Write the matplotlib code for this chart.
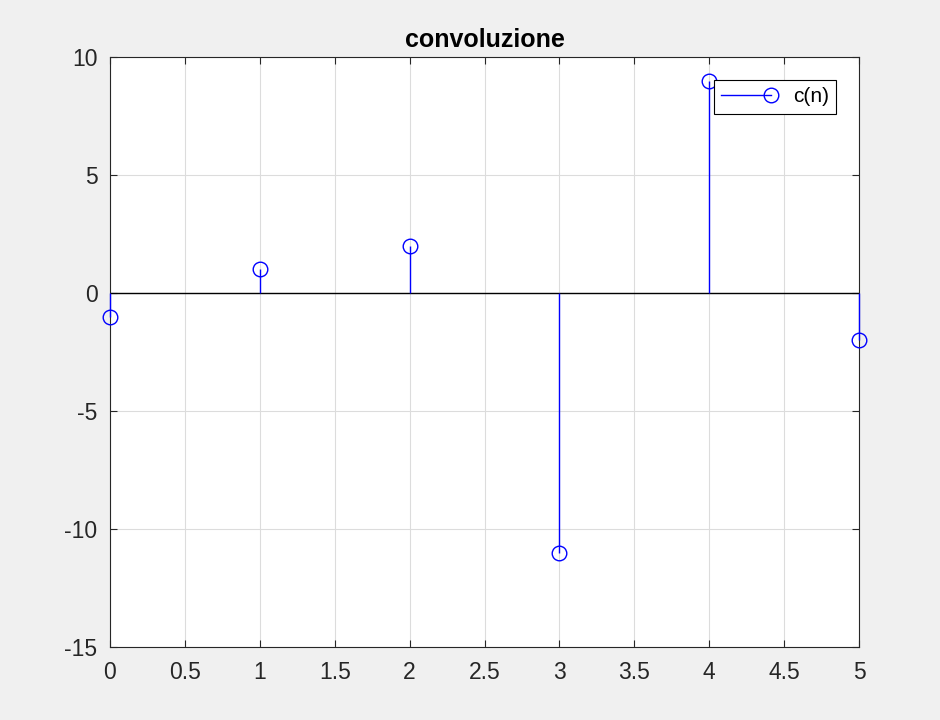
import matplotlib
matplotlib.use("Agg")
import matplotlib.pyplot as plt
from matplotlib.lines import Line2D
from matplotlib.legend_handler import HandlerLine2D

# dati della convoluzione
n = [0, 1, 2, 3, 4, 5]
c = [-1, 1, 2, -11, 9, -2]
xticks = [0, 0.5, 1, 1.5, 2, 2.5, 3, 3.5, 4, 4.5, 5]
yticks = [-15, -10, -5, 0, 5, 10]

plt.rcParams['font.family'] = ['Liberation Sans', 'DejaVu Sans']
plt.rcParams['axes.unicode_minus'] = False

fig = plt.figure(figsize=(9.4, 7.2), dpi=100, facecolor='#f0f0f0')
ax = fig.add_axes([110/940, 73/720, 749/940, 590/720])
ax.set_facecolor('white')

ax.axhline(0, color='black', lw=1.0, zorder=2)
markerline, stemlines, baseline = ax.stem(n, c, linefmt='b-', markerfmt='bo', basefmt=' ')
stemlines.set_linewidth(1.0)
stemlines.set_zorder(3)
stemlines.set_clip_on(False)
markerline.set_markerfacecolor('none')
markerline.set_markeredgecolor('blue')
markerline.set_markersize(10.5)
markerline.set_markeredgewidth(1.0)
markerline.set_zorder(4)
markerline.set_clip_on(False)

ax.set_xlim(0, 5)
ax.set_ylim(-15, 10)
ax.set_xticks(xticks)
ax.set_xticklabels(['0', '0.5', '1', '1.5', '2', '2.5', '3', '3.5', '4', '4.5', '5'])
ax.set_yticks(yticks)
ax.grid(True, color='#dcdcdc', lw=0.8)
ax.set_axisbelow(True)
ax.tick_params(direction='in', labelsize=16.5, colors='#262626', length=5, top=True, right=True,
               labeltop=False, labelright=False)
ax.tick_params(axis='x', pad=10)
ax.tick_params(axis='y', pad=9)
for s in ax.spines.values():
    s.set_color('#262626')
    s.set_linewidth(0.8)

ax.set_title('convoluzione', fontsize=18, fontweight='bold', color='black', pad=7)


# marker solo a destra della linea nella legenda, come in MATLAB
def marker_right(h, orig):
    h.update_from(orig)
    h.set_markevery([1])


handle = Line2D([0, 1], [0, 0], color='blue', lw=1.0, marker='o', markersize=10.5,
                markerfacecolor='none', markeredgecolor='blue')
leg = ax.legend([handle], ['c(n)'], loc='upper right', bbox_to_anchor=(726/749, 567/590),
                numpoints=2, fontsize=15, fancybox=False, framealpha=1, edgecolor='black',
                borderaxespad=0, handlelength=2.4, borderpad=0.35, handletextpad=1.05,
                handler_map={handle: HandlerLine2D(marker_pad=0, update_func=marker_right)})
leg.get_frame().set_linewidth(0.8)
leg.set_zorder(5)

fig.savefig('out.png', dpi=100, facecolor=fig.get_facecolor())
